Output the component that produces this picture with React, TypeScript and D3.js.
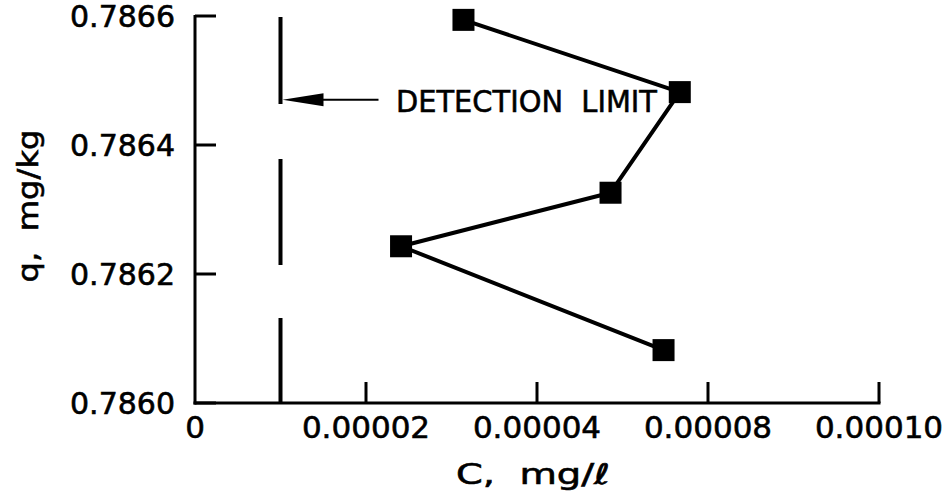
import * as d3 from "d3";

// concentration C (mg/l) and sorbed amount q (mg/kg)
const cValues = [0.0000314, 0.0000567, 0.0000486, 0.0000241, 0.0000548];
const qValues = [0.786594, 0.786482, 0.786326, 0.786243, 0.786082];

const xTicks = [0, 0.00002, 0.00004, 0.00006, 0.00008];
// labels exactly as printed on the original figure
const xTickLabels = ["0", "0.00002", "0.00004", "0.00008", "0.00010"];
const yTicks = [0.786, 0.7862, 0.7864, 0.7866];
const yTickLabels = ["0.7860", "0.7862", "0.7864", "0.7866"];

const detectionLimit = 0.00001;
const detectionLabelQ = 0.78647;

const W = 952;
const H = 504;
const FONT = "'DejaVu Sans', sans-serif";

const App = () => {
  const x = d3.scaleLinear().domain([0, 0.00008]).range([195, 879]);
  const y = d3.scaleLinear().domain([0.786, 0.7866]).range([403, 16]);

  const points = cValues.map((c, i) => [x(c), y(qValues[i])] as [number, number]);
  const line = d3.line()(points) || "";

  const dlX = x(detectionLimit);
  const arrowY = y(detectionLabelQ);
  const markerSize = 22;

  // plotter-style text is a bit heavier than the regular face
  const textStyle = { stroke: "#000", strokeWidth: 0.6, fill: "#000" };

  return (
    <svg
      width={W}
      height={H}
      style={{ position: "absolute", left: 0, top: 0, background: "#fff" }}
      fontFamily={FONT}
    >
      {/* y axis */}
      <line x1={x(0)} x2={x(0)} y1={y(0.7866) - 1} y2={y(0.786) + 1.5} stroke="#000" strokeWidth={3} />
      {yTicks.map((t, i) => (
        <g key={"y" + i}>
          <line x1={x(0)} x2={x(0) + 21} y1={y(t)} y2={y(t)} stroke="#000" strokeWidth={3} />
          <text x={x(0) - 20} y={y(t)} dy="0.36em" textAnchor="end" fontSize={30} {...textStyle}>
            {yTickLabels[i]}
          </text>
        </g>
      ))}

      {/* x axis */}
      <line x1={x(0) - 1.5} x2={x(0.00008) + 1.5} y1={y(0.786)} y2={y(0.786)} stroke="#000" strokeWidth={3} />
      {xTicks.map((t, i) => (
        <g key={"x" + i}>
          {i > 0 && (
            <line x1={x(t)} x2={x(t)} y1={y(0.786)} y2={y(0.786) - 21} stroke="#000" strokeWidth={3} />
          )}
          <text x={x(t)} y={438} textAnchor="middle" fontSize={31} {...textStyle}>
            {xTickLabels[i]}
          </text>
        </g>
      ))}

      {/* axis titles */}
      <text
        x={533}
        y={484}
        textAnchor="middle"
        fontSize={28}
        textLength={154}
        lengthAdjust="spacingAndGlyphs"
        style={{ whiteSpace: "pre" }}
        {...textStyle}
      >
        {"C,  mg/ℓ"}
      </text>
      <text
        transform={`translate(38,206) rotate(-90)`}
        textAnchor="middle"
        fontSize={28}
        textLength={153}
        lengthAdjust="spacingAndGlyphs"
        style={{ whiteSpace: "pre" }}
        {...textStyle}
      >
        {"q,  mg/kg"}
      </text>

      {/* detection limit */}
      <line
        x1={dlX}
        x2={dlX}
        y1={17}
        y2={y(0.786)}
        stroke="#000"
        strokeWidth={4}
        strokeDasharray="87 55 106 53 200"
      />
      <line x1={dlX + 40} x2={dlX + 98} y1={arrowY} y2={arrowY} stroke="#000" strokeWidth={2} />
      <path
        d={`M${dlX + 2},${arrowY} L${dlX + 43},${arrowY - 6.5} L${dlX + 43},${arrowY + 6.5} Z`}
        fill="#000"
      />
      <text
        x={396}
        y={112}
        fontSize={31}
        textLength={261}
        lengthAdjust="spacingAndGlyphs"
        style={{ whiteSpace: "pre" }}
        {...textStyle}
      >
        {"DETECTION  LIMIT"}
      </text>

      {/* data */}
      <path d={line} fill="none" stroke="#000" strokeWidth={4} strokeLinejoin="round" />
      {points.map(([px, py], i) => (
        <rect
          key={"m" + i}
          x={px - markerSize / 2}
          y={py - markerSize / 2}
          width={markerSize}
          height={markerSize}
          fill="#000"
        />
      ))}
    </svg>
  );
};

export default App;
